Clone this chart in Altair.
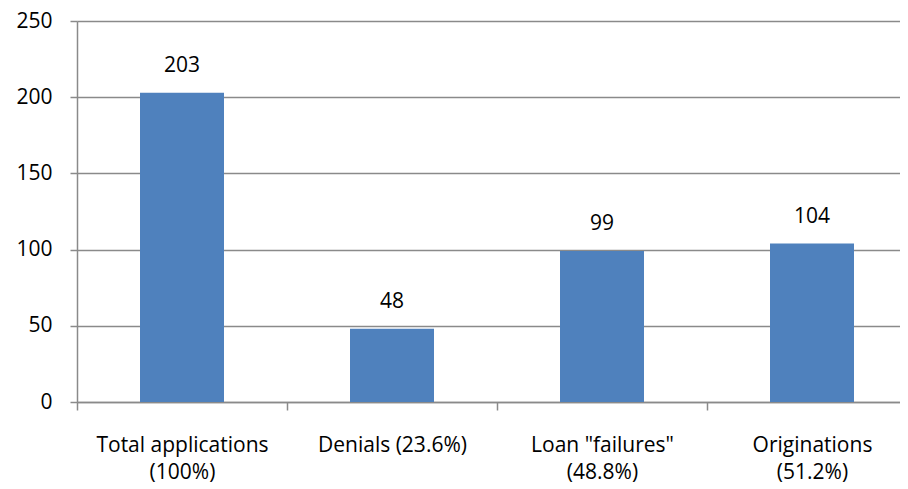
import altair as alt
import pandas as pd

categories = ["Total applications|(100%)", "Denials (23.6%)", 'Loan "failures"|(48.8%)', "Originations|(51.2%)"]
values = [203, 48, 99, 104]
y_ticks = [0, 50, 100, 150, 200, 250]

df = pd.DataFrame({"category": categories, "value": values})

FONT = "Open Sans"
GRAY = "#8a8a8a"
BAR = "#4F81BD"
FS = 21

x_scale = alt.Scale(paddingInner=0.6, paddingOuter=0.259524, align=0.577982)
y_scale = alt.Scale(domain=[0, 250], nice=False, zero=True)

x_enc = alt.X(
    "category:N",
    sort=None,
    scale=x_scale,
    axis=alt.Axis(
        title=None,
        labelAngle=0,
        tickSize=8,
        tickColor=GRAY,
        tickWidth=1.5,
        tickOffset=-105,
        labelOffset=105,
        domainColor=GRAY,
        domainWidth=1.5,
        labelPadding=24,
        labelExpr="split(datum.label, '|')",
        labelLineHeight=27,
        labelFont=FONT,
        labelFontSize=FS,
        labelColor="#000000",
    ),
)
y_enc = alt.Y(
    "value:Q",
    scale=y_scale,
    axis=alt.Axis(
        title=None,
        values=y_ticks,
        grid=True,
        gridColor=GRAY,
        gridWidth=1.5,
        domainColor=GRAY,
        domainWidth=1.5,
        tickColor=GRAY,
        tickWidth=1.5,
        tickSize=7,
        labelPadding=18,
        labelFont=FONT,
        labelFontSize=FS,
        labelColor="#000000",
    ),
)

bars = alt.Chart(df).mark_bar(color=BAR).encode(x=x_enc, y=y_enc)
labels = alt.Chart(df).mark_text(
    font=FONT, fontSize=FS, color="#000000", baseline="alphabetic", dy=-21
).encode(
    x=alt.X("category:N", sort=None, scale=x_scale),
    y=alt.Y("value:Q", scale=y_scale),
    text="value:Q",
)

chart = (
    alt.layer(bars, labels)
    .properties(
        width=823,
        height=381,
        autosize=alt.AutoSizeParams(type="none"),
        padding={"left": 69, "top": 13, "right": 0, "bottom": 83},
    )
    .configure_view(strokeWidth=0)
)

chart.save("out.html", embed_options={"renderer": "svg", "actions": False})
